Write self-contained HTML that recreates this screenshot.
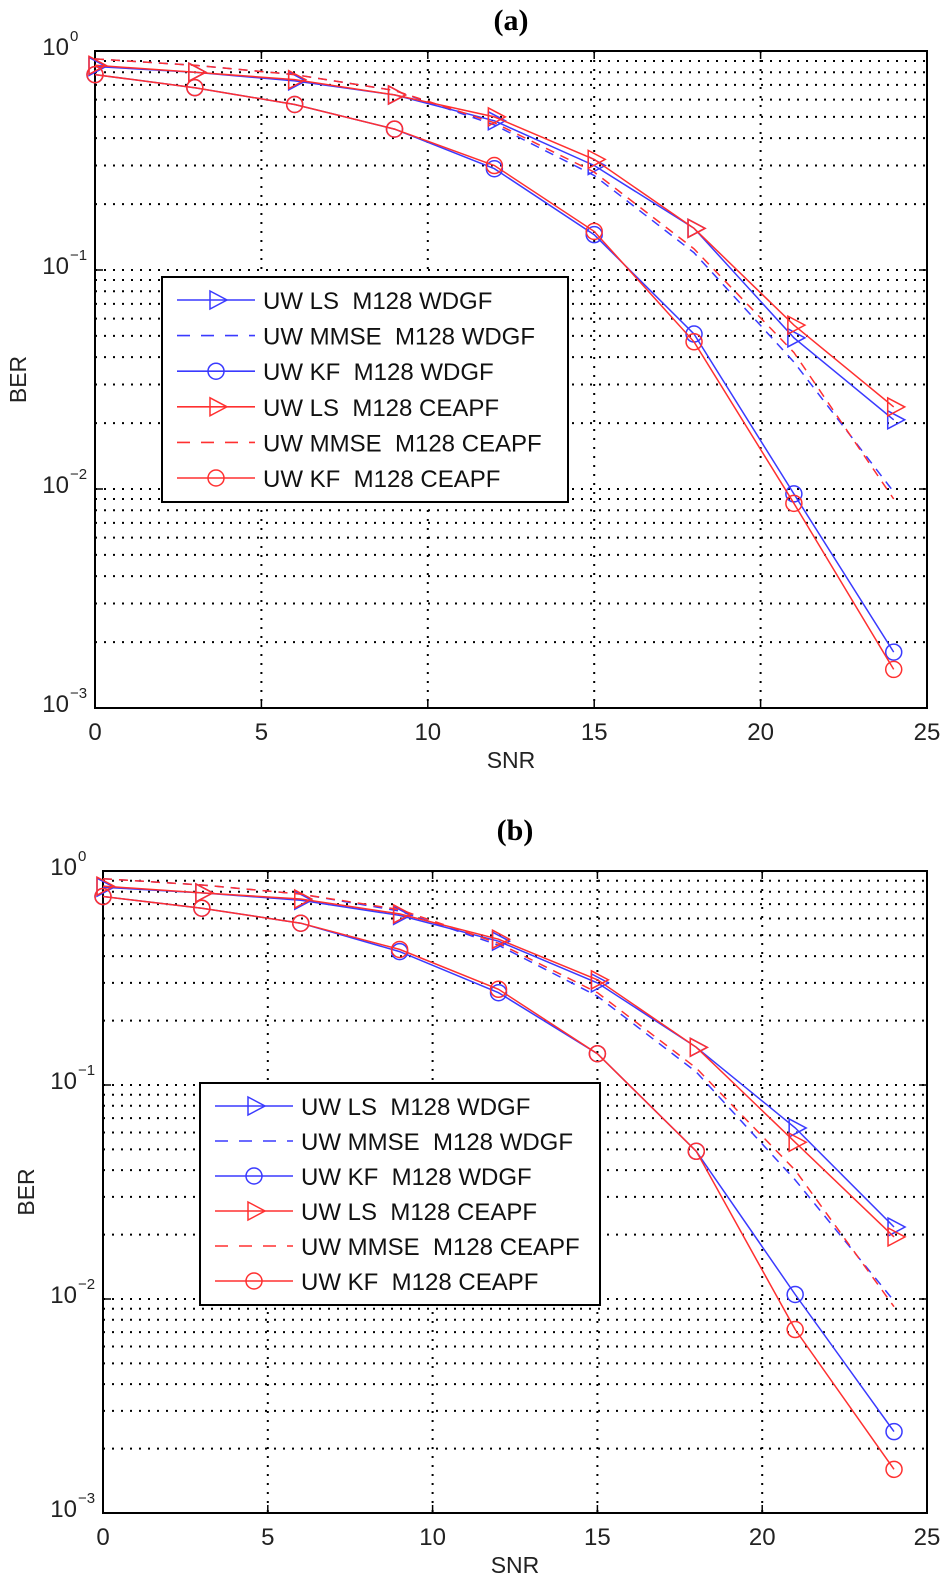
<!DOCTYPE html>
<html><head><meta charset="utf-8">
<style>
html,body{margin:0;padding:0;background:#fff;}
svg{display:block;font-family:"Liberation Sans",Arial,sans-serif;}
text{white-space:pre;}
</style></head>
<body>
<svg id="fig" width="944" height="1576" viewBox="0 0 944 1576" xmlns="http://www.w3.org/2000/svg"></svg>
<script>
const snr = [0,3,6,9,12,15,18,21,24];
const xTicks = [0,5,10,15,20,25];
const yDecades = [0,-1,-2,-3];
const legendLabels = ["UW LS  M128 WDGF","UW MMSE  M128 WDGF","UW KF  M128 WDGF","UW LS  M128 CEAPF","UW MMSE  M128 CEAPF","UW KF  M128 CEAPF"];
// panel (a)
const aLsW   = [0.85,0.80,0.73,0.63,0.48,0.30,0.155,0.049,0.0207];
const aMmseW = [0.92,0.86,0.78,0.66,0.46,0.27,0.12,0.038,0.0097];
const aKfW   = [0.78,0.68,0.57,0.44,0.29,0.145,0.051,0.0095,0.0018];
const aLsC   = [0.86,0.80,0.74,0.63,0.50,0.32,0.155,0.056,0.0237];
const aMmseC = [0.92,0.86,0.78,0.66,0.47,0.28,0.125,0.042,0.009];
const aKfC   = [0.78,0.68,0.57,0.44,0.30,0.15,0.047,0.0086,0.0015];
// panel (b)
const bLsW   = [0.84,0.79,0.73,0.62,0.47,0.30,0.15,0.063,0.0217];
const bMmseW = [0.92,0.86,0.78,0.65,0.45,0.26,0.115,0.036,0.0098];
const bKfW   = [0.76,0.67,0.57,0.42,0.27,0.14,0.049,0.0105,0.0024];
const bLsC   = [0.85,0.79,0.74,0.63,0.48,0.31,0.15,0.054,0.0195];
const bMmseC = [0.92,0.86,0.78,0.66,0.46,0.27,0.12,0.04,0.0092];
const bKfC   = [0.76,0.67,0.57,0.43,0.28,0.14,0.049,0.0072,0.0016];

const NS="http://www.w3.org/2000/svg";
const svg=document.getElementById('fig');
function mk(tag,attrs,parent){const e=document.createElementNS(NS,tag);for(const k in attrs)e.setAttribute(k,attrs[k]);(parent||svg).appendChild(e);return e;}

function drawPanel(p){
  const g=mk('g',{});
  
  
  const X=v=>p.left+(v-0)/25*(p.right-p.left);
  const Y=v=>p.top+(-Math.log10(v))/3*(p.bottom-p.top);
  const t=mk('text',{x:(p.left+p.right)/2,y:p.titleY,'text-anchor':'middle','font-family':'Liberation Serif, serif','font-weight':'bold','font-size':30},g);
  t.textContent='('+p.id+')';
  
  
  const grid=mk('g',{stroke:'#000','stroke-width':2,'stroke-dasharray':'2 7',fill:'none'},g);
  
  
  for(let d=0;d<3;d++){for(let m=1;m<10;m++){const v=m*Math.pow(10,-d-1);const y=Y(v);if(m===1&&d===2)continue;mk('line',{x1:p.left,x2:p.right,y1:y,y2:y},grid);}}
  xTicks.forEach(v=>{if(v>0&&v<25)mk('line',{x1:X(v),x2:X(v),y1:p.top,y2:p.bottom},grid);});
  const box=mk('rect',{x:p.left,y:p.top,width:p.right-p.left,height:p.bottom-p.top,fill:'none',stroke:'#000','stroke-width':2},g);
  
  
  xTicks.forEach(v=>{
    mk('line',{x1:X(v),x2:X(v),y1:p.bottom,y2:p.bottom-8,stroke:'#000','stroke-width':1.5},g);
    mk('line',{x1:X(v),x2:X(v),y1:p.top,y2:p.top+8,stroke:'#000','stroke-width':1.5},g);
    const tx=mk('text',{x:X(v),y:p.bottom+32,'text-anchor':'middle','font-size':24,fill:'#222'},g);
    tx.textContent=v;
    
    
  });
  yDecades.forEach(d=>{
    const y=Y(Math.pow(10,d));
    mk('line',{x1:p.left,x2:p.left+8,y1:y,y2:y,stroke:'#000','stroke-width':1.5},g);
    mk('line',{x1:p.right,x2:p.right-8,y1:y,y2:y,stroke:'#000','stroke-width':1.5},g);
    const ty=mk('text',{x:p.left-26,y:y+4,'text-anchor':'end','font-size':24,fill:'#222'},g);
    ty.textContent='10';
    
    
    const sup=mk('text',{x:p.left-25,y:y-10,'text-anchor':'start','font-size':15,fill:'#222'},g);
    sup.textContent=d===0?'0':'\u2212'+(-d);
    
    
  });
  const xl=mk('text',{x:(p.left+p.right)/2,y:p.bottom+60,'text-anchor':'middle','font-size':23,fill:'#222'},g);
  xl.textContent='SNR';
  
  
  const yl=mk('text',{x:0,y:0,'text-anchor':'middle','font-size':23,fill:'#222',transform:'translate('+(p.left-69)+','+((p.top+p.bottom)/2)+') rotate(-90)'},g);
  yl.textContent='BER';
  
  
  const styles=[{c:'#3a3aff',dash:null,m:'tri'},{c:'#3a3aff',dash:'9 7',m:null},{c:'#3a3aff',dash:null,m:'circ'},{c:'#ff3030',dash:null,m:'tri'},{c:'#ff3030',dash:'9 7',m:null},{c:'#ff3030',dash:null,m:'circ'}];
  const names=['ls-wdgf','mmse-wdgf','kf-wdgf','ls-ceapf','mmse-ceapf','kf-ceapf'];
  function marker(par,m,x,y,c){
    if(m==='tri'){const e=mk('polygon',{points:(x-6)+','+(y-9)+' '+(x+11)+','+y+' '+(x-6)+','+(y+9),fill:'none',stroke:c,'stroke-width':1.5},par);}
    if(m==='circ'){const e=mk('circle',{cx:x,cy:y,r:8,fill:'none',stroke:c,'stroke-width':1.5},par);}
  }
  p.series.forEach((s,i)=>{
    const st=styles[i];
    const sg=mk('g',{},g);
    
    
    const pts=s.map((v,j)=>X(snr[j]).toFixed(1)+','+Y(v).toFixed(1)).join(' ');
    const pl=mk('polyline',{points:pts,fill:'none',stroke:st.c,'stroke-width':1.5},sg);
    if(st.dash)pl.setAttribute('stroke-dasharray',st.dash);
    
    
    if(st.m)s.forEach((v,j)=>marker(sg,st.m,X(snr[j]),Y(v),st.c));
  });
  const L=p.legend;
  const lg=mk('g',{},g);
  
  
  mk('rect',{x:L.x,y:L.y,width:L.w,height:L.h,fill:'#fff',stroke:'#000','stroke-width':2},lg);
  legendLabels.forEach((lab,i)=>{
    const st=styles[i];const y=L.y+23+i*L.step;
    const eg=mk('g',{},lg);
    
    
    const ln=mk('line',{x1:L.x+15,x2:L.x+93,y1:y,y2:y,stroke:st.c,'stroke-width':1.6},eg);
    if(st.dash)ln.setAttribute('stroke-dasharray','13 11');
    if(st.m)marker(eg,st.m,L.x+54,y,st.c);
    const tx=mk('text',{x:L.x+101,y:y+9,'font-size':24,fill:'#111'},eg);
    tx.textContent=lab;
  });
}
drawPanel({id:'a',left:95,right:927,top:51,bottom:708,titleY:30,
  series:[aLsW,aMmseW,aKfW,aLsC,aMmseC,aKfC],
  legend:{x:162,y:277,w:406,h:225,step:35.6}});
drawPanel({id:'b',left:103,right:927,top:871,bottom:1513,titleY:840,
  series:[bLsW,bMmseW,bKfW,bLsC,bMmseC,bKfC],
  legend:{x:200,y:1083,w:400,h:222,step:35}});
</script>
</body></html>
